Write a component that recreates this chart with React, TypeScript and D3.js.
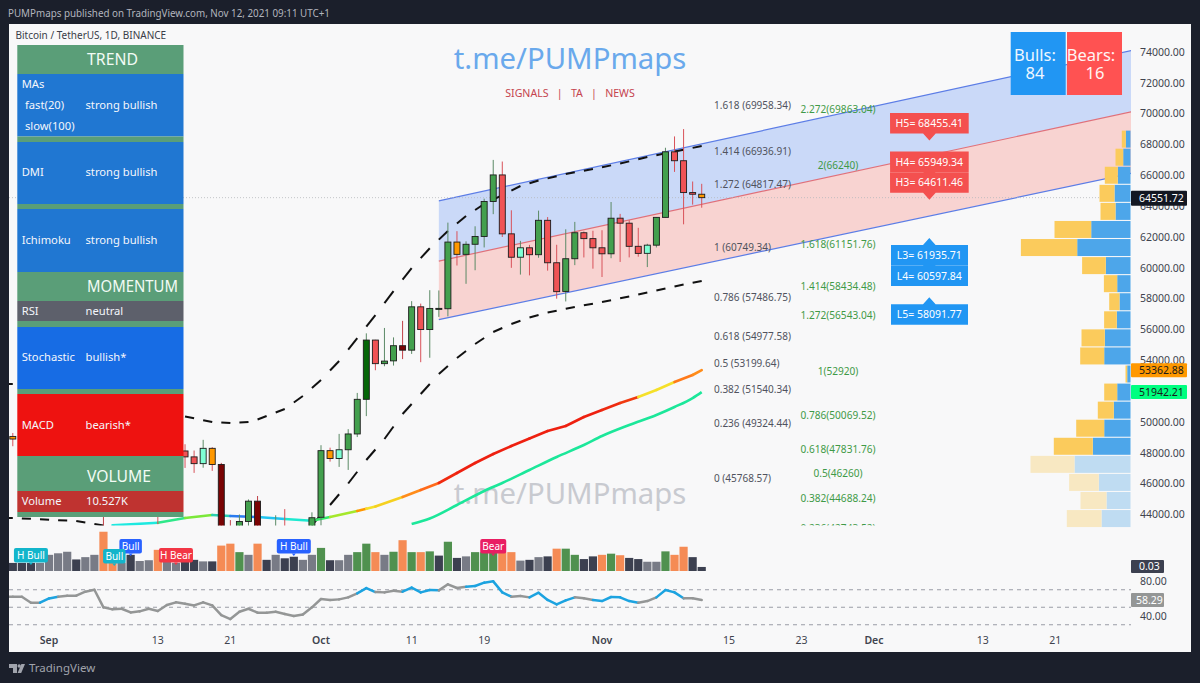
import * as React from 'react'
import * as d3 from 'd3'

// daily candles, Aug 27 to Nov 12 2021
const firstDay = -35 // days from Oct 1
const opens = [46894, 49064, 48895, 48767, 46991, 47100, 48810, 49246, 49998, 49917, 51757, 52666, 46868, 46048, 46396, 44843, 45173, 46026, 44947, 47127,
  48121, 47737, 47299, 48292, 47241, 43016, 40734, 43546, 44865, 42810, 42670, 43160, 42147, 41026, 41522,
  43820, 48141, 47634, 48200, 49224, 51471, 55315, 53785, 53965, 54949, 54660, 57471, 55996, 57370, 57347, 61672, 60875, 61528, 62036, 64303,
  66026, 62205, 60688, 61300, 60852, 63083, 60329, 58470, 60590, 62276, 61895,
  61300, 60911, 63220, 62896, 61396, 60940, 61470, 63273, 67525, 66947, 64882, 64774]
const highs = [49149, 49287, 49632, 48888, 48246, 49125, 50500, 51000, 50558, 51900, 52780, 52920, 47340, 47399, 47040, 45987, 46460, 46890, 47250, 48500,
  48557, 48150, 48843, 48372, 47347, 43639, 44000, 44978, 45200, 42966, 43950, 44350, 42787, 42590, 44141,
  48495, 48336, 49228, 49536, 51886, 55750, 55332, 56100, 55489, 56561, 57839, 57680, 58550, 58532, 62933, 62378, 61718, 62695, 64486, 67000,
  66895, 63732, 61747, 61490, 63710, 63293, 61496, 62499, 62980, 62359, 62405,
  62437, 64270, 63500, 63086, 62595, 61560, 63286, 67789, 68524, 69000, 65600, 65450]
const lows = [46360, 48428, 47762, 46853, 46700, 46512, 48584, 48316, 49370, 49450, 50969, 42843, 44412, 45513, 44132, 44722, 44742, 43370, 44594, 46700,
  47021, 46699, 47035, 46829, 42500, 39600, 40565, 43069, 40675, 41646, 40750, 42098, 40888, 40753, 41410,
  43283, 47430, 47088, 46891, 49022, 50382, 53357, 53617, 53661, 54080, 54415, 53879, 54167, 56818, 56850, 60150, 58963, 59844, 61322, 63481,
  62000, 60000, 59562, 59510, 60656, 59817, 58000, 57820, 60174, 60673, 59945,
  59405, 60624, 60382, 60677, 60721, 60050, 61322, 63273, 66222, 62822, 64100, 63900]
const closes = [49064, 48895, 48767, 46991, 47100, 48810, 49246, 49999, 49915, 51756, 52663, 46864, 46049, 46395, 44851, 45173, 46026, 44947, 47127, 48149,
  47737, 47299, 48292, 47241, 43015, 40734, 43543, 44865, 42810, 42670, 43160, 42147, 41026, 41522, 43790,
  48141, 47634, 48200, 49224, 51471, 55315, 53785, 53951, 54949, 54659, 57471, 55996, 57367, 57347, 61672, 60875, 61528, 62036, 64303, 66026,
  62204, 60687, 61300, 60852, 63083, 60329, 58455, 60591, 62276, 61894, 61300,
  60911, 63219, 62896, 61395, 60937, 61470, 63273, 67525, 66947, 64882, 64774, 64551.72]
const candleKinds = 'gorrggggrggRrgrggrggrrmoRRggRrgrrgg' + 'gomggGrggRgrgggoggggrrmrgrrggrr' + 'rgrrrmggrrro'

const volumes = [21, 21, 21, 21, 21, 42, 46, 50, 30, 36, 42, 102, 46, 22, 42, 26, 28, 55, 24, 21,
  24, 29, 25, 25, 66, 71, 49, 42, 71, 29, 42, 33, 37, 29, 42,
  60, 28, 28, 42, 49, 71, 49, 42, 50, 80, 49, 49, 51, 40, 76, 34, 38, 49, 49, 47,
  49, 49, 27, 29, 36, 38, 58, 58, 42, 31, 38,
  42, 45, 41, 34, 31, 24, 24, 51, 42, 63, 36, 10.5]
const volumeKinds = 'ddddg' + 'gggdggoogdggoggddgdoongodgddgg' + 'ndggnnogno' + 'nondndgnnn' + 'oogdgdonndd' + 'onoddggnoodd'

const rsiValues = [62, 62, 62, 55.2, 55.2, 60.1, 62, 63.2, 63.2, 67.8, 70, 49.9, 47.6, 48.3, 44.1, 45.3, 48.3, 45.7, 52.5, 55.6,
  54.1, 52.1, 55.6, 52.1, 41.1, 36.5, 44.9, 48.3, 43.8, 43.8, 44.9, 42.2, 39.9, 41.8, 49.9,
  59.4, 58.2, 59, 61.3, 65.9, 71.9, 67.4, 67, 68.9, 67.8, 72.4, 67, 69.7, 69.3, 76.2, 72, 73.5, 74.3, 78.1, 79.6,
  67, 62.1, 62.8, 61.3, 66.6, 58.3, 53.3, 57.9, 61.3, 60.2, 58.3,
  57.1, 61.7, 61.3, 57.1, 55.2, 57.1, 61.3, 69.7, 67, 60.2, 60.2, 58.29]
const rsiBlueRanges = [[-31, -29], [4, 6], [9, 13], [16, 21], [23, 28], [30, 35], [37, 40]]
const rsiLevels = [70, 50, 30]

// dashed bands
const upperDays = [-35, -34, -15, -12, -10, -8, -7, -4, -2, 0, 2, 4, 6, 8, 10, 12, 14, 16, 18, 20, 22, 24, 27, 30, 33, 36, 39, 42]
const upperBand = [52464, 52464, 50356, 50000, 49935, 50000, 50162, 50843, 51686, 52723, 53956, 55448, 56940, 58494, 59988, 61267, 62390, 63360, 64140, 64721, 65307, 65664, 66085, 66409, 66766, 67188, 67545, 67901]
const lowerDays = [-35, -34, -27, -24, -20, -8, -3, -1, 0, 1, 3, 5, 7, 9, 11, 13, 15, 17, 19, 21, 23, 25, 28, 31, 34, 37, 40, 42]
const lowerBand = [43773, 43773, 43578, 43287, 42995, 41000, 41697, 43319, 43968, 44616, 46011, 47535, 48897, 50518, 51815, 53113, 54150, 55058, 55837, 56356, 56778, 57102, 57458, 57783, 58139, 58529, 58918, 59145]

// moving averages
const fastDays = [-23, -18, -15, -12, -10, -7, -4, -1, 1, 4, 5, 6, 9, 11, 13, 15, 17, 19, 21, 23, 25, 27, 29, 31, 33, 35, 37, 39, 41, 42]
const fastMa = [43300, 43468, 43773, 43968, 43903, 43838, 43708, 43598, 43838, 44227, 44370, 44519, 45135, 45589, 46043, 46692, 47340, 47924, 48443, 48929, 49416, 49740, 50324, 50778, 51232, 51621, 52075, 52594, 53048, 53362.88]
const fastColors = ['#1de9e0', '#2fe88a', '#7be83a', '#2ad0b0', '#2a7bf0', '#1fc4f0', '#1de9d0', '#35e86a', '#a5e82c', '#ff9800', '#f5e02a', '#f5d020', '#ff8c1a', '#ff6a1a', '#f02a10', '#ee2010', '#ee2010', '#ee2010', '#ee2010', '#ee2010', '#ee2010', '#ee2010', '#ee2010', '#ee2a10', '#f03a10', '#f5e02a', '#f5e02a', '#ff7a1a', '#ff8c1a']
const slowDays = [10, 12, 15, 18, 20, 23, 26, 29, 31, 34, 37, 39, 41, 42]
const slowMa = [43384, 43741, 44616, 45524, 46043, 46886, 47729, 48508, 49092, 49805, 50454, 50973, 51556, 51942.21]

// regression channel, two ends each
const channelDays = [13, 89.4]
const channelTop = [64340, 74100]
const channelMid = [60440, 70120]
const channelBottom = [56640, 66130]

// volume profile, top row first
const profileTop = 68900
const profileStep = 1172
const profileBuy = [4.7, 7.3, 12.7, 16, 15, 39.3, 53.3, 24.7, 13.3, 11, 13.7, 25.7, 26.3, 3.3, 13.3, 16.7, 26.3, 37.7, 56, 31.7, 24, 29]
const profileSell = [4, 7.7, 13, 15, 15, 36.7, 56.3, 23.7, 13.3, 10.3, 12.7, 23.3, 24, 1.7, 13, 16, 28, 39, 44, 29.7, 26, 34.7]
const profilePaleFrom = 18

const priceTicks = [74000, 72000, 70000, 68000, 66000, 64000, 62000, 60000, 58000, 56000, 54000, 50000, 48000, 46000, 44000]
const timeTicks = ['2021-09-01', '2021-09-13', '2021-09-21', '2021-10-01', '2021-10-11', '2021-10-19', '2021-11-01', '2021-11-15', '2021-11-23', '2021-12-01', '2021-12-13', '2021-12-21']
const fibLevels = ['1.618', '1.414', '1.272', '1', '0.786', '0.618', '0.5', '0.382', '0.236', '0']
const fibPrices = [69958.34, 66936.91, 64817.47, 60749.34, 57486.75, 54977.58, 53199.64, 51540.34, 49324.44, 45768.57]
const extLabels = ['2.272(69863.04)', '2(66240)', '1.618(61151.76)', '1.414(58434.48)', '1.272(56543.04)', '1(52920)', '0.786(50069.52)', '0.618(47831.76)', '0.5(46260)', '0.382(44688.24)', '0.236(42743.52)']
const extPrices = [69863.04, 66240, 61151.76, 58434.48, 56543.04, 52920, 50069.52, 47831.76, 46260, 44688.24, 42743.52]
const highNames = ['H5', 'H4', 'H3']
const highPivots = [68455.41, 65949.34, 64611.46]
const lowNames = ['L3', 'L4', 'L5']
const lowPivots = [61935.71, 60597.84, 58091.77]
const signalNames = ['H Bull', 'Bull', 'Bull', 'H Bear', 'H Bull', 'Bear']
const signalDays = [-32, -21, -22.8, -16, -3, 19]
const signalColors = ['#12b5cb', '#2962ff', '#12b5cb', '#f23645', '#2962ff', '#e91e63']
const signalTops = [548, 539, 549, 548, 539, 539]

const panelRows = [
  { y0: 45, y1: 74, fill: '#5a9e78' }, { y0: 74, y1: 136.5, fill: '#2077d2' }, { y0: 136.5, y1: 142, fill: '#5a9e78' },
  { y0: 142, y1: 204, fill: '#2077d2' }, { y0: 204, y1: 209, fill: '#5a9e78' }, { y0: 209, y1: 272, fill: '#2077d2' },
  { y0: 272, y1: 301, fill: '#5a9e78' }, { y0: 301, y1: 321, fill: '#5d606b' }, { y0: 321, y1: 327, fill: '#5a9e78' },
  { y0: 327, y1: 389, fill: '#176ce4' }, { y0: 389, y1: 394, fill: '#5a9e78' }, { y0: 394, y1: 456, fill: '#ee1210' },
  { y0: 456, y1: 491, fill: '#5a9e78' }, { y0: 491, y1: 512, fill: '#bf3330' }, { y0: 512, y1: 517, fill: '#5a9e78' },
]
const panelHeads = [['TREND', 65, 51], ['MOMENTUM', 292, 91], ['VOLUME', 482, 64]] as [string, number, number][]
const panelTexts = [
  ['MAs', 21.7, 88], ['fast(20)', 25, 109], ['slow(100)', 25, 130], ['DMI', 21.7, 176], ['Ichimoku', 21.7, 244],
  ['RSI', 21.7, 315], ['Stochastic', 21.7, 361], ['MACD', 21.7, 429], ['Volume', 21.7, 505],
  ['strong bullish', 85.5, 109], ['strong bullish', 85.5, 176], ['strong bullish', 85.5, 244],
  ['neutral', 85.5, 315], ['bullish*', 85.5, 361], ['bearish*', 85.5, 429], ['10.527K', 86, 505],
] as [string, number, number][]

const candleFill: Record<string, string> = { g: '#43a04e', r: '#f05355', G: '#056608', R: '#7a0404', m: '#7fffd4', o: '#ff9800' }
const wickColor: Record<string, string> = { g: '#5b8a66', r: '#d8525a', G: '#5b8a66', R: '#c04048', m: '#5b8a66', o: '#d8525a' }
const volumeFill: Record<string, string> = { d: '#3c4050', g: '#787b86', o: '#f58b55', n: '#50914f' }

const oct1 = Date.UTC(2021, 9, 1)
const dayMs = 86400000
const x = d3.scaleUtc().domain([new Date(oct1), new Date(Date.UTC(2021, 10, 1))]).range([321, 602])
const xd = (d: number) => x(new Date(oct1 + d * dayMs))
const y = d3.scaleLinear().domain([44000, 74000]).range([514.5, 52])
const volY = d3.scaleLinear().domain([0, 100]).range([571, 532.5])
const rsiY = d3.scaleLinear().domain([40, 80]).range([616, 581])
const profW = d3.scaleLinear().domain([0, 100]).range([0, 100])
const fontUi = '"Noto Sans", sans-serif'

const seg = (x0: number, y0: number, x1: number, y1: number) => d3.line()([[x0, y0], [x1, y1]]) || ''

// the bands are drawn broken: one day on, one day off, from odd days
const DashedBand = ({ days, vals }: { days: number[], vals: number[] }) => {
  const at = d3.scaleLinear().domain(days).range(vals)
  const starts = d3.range(-35, 42, 2)
  return (
    <g>
      {starts.map(d => (
        <path key={d} d={seg(xd(d), y(at(d)), xd(d + 1), y(at(d + 1)))} stroke="#111" strokeWidth={2} fill="none" />
      ))}
    </g>
  )
}

const App = () => {
  const pathOf = (days: number[], vals: number[]) =>
    d3.line<number>().x((_, i) => xd(days[i])).y(v => y(v)).curve(d3.curveMonotoneX)(vals) || ''
  const tf = d3.utcFormat('%b')

  return (
    <svg width={1200} height={683} style={{ position: 'absolute', left: 0, top: 0, display: 'block' }} fontFamily={fontUi}>
      <defs>
        <clipPath id="mainClip"><rect x={9} y={24} width={1122} height={501.5} /></clipPath>
        <clipPath id="plotClip"><rect x={9} y={24} width={1122} height={628} /></clipPath>
      </defs>
      <rect width={1200} height={683} fill="#1b1f2b" />
      <rect x={9} y={24} width={1182} height={628} fill="#f8f8f9" />
      <text x={8} y={17} fontSize={10.2} textLength={322} lengthAdjust="spacingAndGlyphs" fill="#b2b5be">PUMPmaps published on TradingView.com, Nov 12, 2021 09:11 UTC+1</text>
      <text x={15.5} y={39} fontSize={10} fill="#3a3d48">Bitcoin / TetherUS, 1D, BINANCE</text>

      <g clipPath="url(#mainClip)">
        <path d={`M${xd(channelDays[0])},${y(channelTop[0])}L${xd(channelDays[1])},${y(channelTop[1])}L${xd(channelDays[1])},${y(channelMid[1])}L${xd(channelDays[0])},${y(channelMid[0])}Z`} fill="#cad9f8" />
        <path d={`M${xd(channelDays[0])},${y(channelMid[0])}L${xd(channelDays[1])},${y(channelMid[1])}L${xd(channelDays[1])},${y(channelBottom[1])}L${xd(channelDays[0])},${y(channelBottom[0])}Z`} fill="#f8d3d1" />
        {[channelTop, channelBottom].map((c, i) => (
          <path key={i} d={seg(xd(channelDays[0]), y(c[0]), xd(channelDays[1]), y(c[1]))} stroke="#5c7de6" strokeWidth={1.2} fill="none" />
        ))}
        <path d={seg(xd(channelDays[0]), y(channelMid[0]), xd(channelDays[1]), y(channelMid[1]))} stroke="#e0707a" strokeWidth={1.2} fill="none" />
        <line x1={9} x2={1131} y1={y(64551.72)} y2={y(64551.72)} stroke="#b5b7bd" strokeWidth={0.8} strokeDasharray="1 2" />

        <text x={570} y={493} dy="0.36em" textAnchor="middle" fontSize={29.3} fill="#c8cad0">t.me/PUMPmaps</text>

        <DashedBand days={upperDays} vals={upperBand} />
        <DashedBand days={lowerDays} vals={lowerBand} />

        {fastColors.map((c, i) => (
          <path key={i} d={seg(xd(fastDays[i]), y(fastMa[i]), xd(fastDays[i + 1]), y(fastMa[i + 1]))} stroke={c} strokeWidth={2.6} strokeLinecap="round" fill="none" />
        ))}
        <path d={pathOf(slowDays, slowMa)} fill="none" stroke="#1ce79a" strokeWidth={2.6} />

        {opens.map((o, i) => {
          const d = firstDay + i
          const k = candleKinds[i]
          const c = closes[i]
          const top = y(Math.max(o, c))
          const h = Math.max(1, Math.abs(y(o) - y(c)))
          return (
            <g key={i}>
              <line x1={xd(d)} x2={xd(d)} y1={y(highs[i])} y2={y(lows[i])} stroke={wickColor[k]} strokeWidth={1} />
              <rect x={xd(d) - 3} y={top} width={6} height={h} fill={candleFill[k]} stroke="#1c1c1c" strokeWidth={0.9} />
            </g>
          )
        })}
      </g>

      {/* fib levels */}
      {fibLevels.map((l, i) => (
        <text key={l} x={714} y={y(fibPrices[i]) - 9} dy="0.36em" fontSize={10} fill="#50535e">{`${l} (${fibPrices[i]})`}</text>
      ))}
      <g clipPath="url(#mainClip)">
        {extLabels.map((l, i) => (
          <text key={l} x={838} y={y(extPrices[i]) - 6} dy="0.36em" textAnchor="middle" fontSize={10.1} fill="#3f9a47">{l}</text>
        ))}
      </g>

      {/* pivots */}
      {highNames.map((n, i) => {
        const t = y(highPivots[i]) + 3
        return (
          <g key={n}>
            <path d={`M890,${t - 27.5}h78.7v20.5h-33l-6.3,7l-6.3,-7h-33z`} fill="#f4504f" />
            <text x={929.3} y={t - 17.3} dy="0.36em" textAnchor="middle" fontSize={10.5} fill="#fff">{`${n}= ${highPivots[i]}`}</text>
          </g>
        )
      })}
      {lowNames.map((n, i) => {
        const t = y(lowPivots[i])
        return (
          <g key={n}>
            <path d={`M891,${t + 7}h32l6.3,-7l6.3,7h32.4v20.5h-77z`} fill="#2196f3" />
            <text x={929.3} y={t + 17.3} dy="0.36em" textAnchor="middle" fontSize={10.5} fill="#fff">{`${n}= ${lowPivots[i]}`}</text>
          </g>
        )
      })}

      {/* volume profile */}
      {profileBuy.map((b, i) => {
        const rowTop = y(profileTop - profileStep * i)
        const pale = i >= profilePaleFrom
        const bw = profW(b)
        const sw = profW(profileSell[i])
        return (
          <g key={i}>
            <rect x={1130.5 - bw} y={rowTop} width={bw} height={17} fill={pale ? '#bfdcf2' : '#4da6ea'} />
            <rect x={1130.5 - bw - sw} y={rowTop} width={sw} height={17} fill={pale ? '#f8e8c2' : '#fbcb5c'} />
          </g>
        )
      })}

      {/* volume pane */}
      <g clipPath="url(#plotClip)">
        {volumes.map((v, i) => (
          <rect key={i} x={xd(firstDay + i) - 4.1} y={volY(v)} width={8.2} height={571 - volY(v)} fill={volumeFill[volumeKinds[i]]} />
        ))}
        {signalNames.map((s, i) => {
          const cx = xd(signalDays[i])
          const w = s.length > 4 ? 34 : s === 'Bear' ? 26 : 22.5
          return (
            <g key={i}>
              <rect x={cx - w / 2} y={signalTops[i]} width={w} height={14.5} rx={2} fill={signalColors[i]} />
              <path d={`M${cx - 2},${signalTops[i] + 14.5}L${cx},${signalTops[i] + 17}L${cx + 2},${signalTops[i] + 14.5}Z`} fill={signalColors[i]} />
              <text x={cx} y={signalTops[i] + 7.2} dy="0.36em" textAnchor="middle" fontSize={10} fill="#fff">{s}</text>
            </g>
          )
        })}

        {/* rsi pane */}
        {rsiLevels.map(l => (
          <line key={l} x1={9} x2={1131} y1={rsiY(l)} y2={rsiY(l)} stroke="#9a9da6" strokeWidth={1} strokeDasharray="4 4" />
        ))}
        {rsiValues.slice(0, -1).map((v, i) => {
          const d = firstDay + i
          const blue = rsiBlueRanges.some(r => d >= r[0] && d < r[1])
          return <path key={i} d={seg(xd(d), rsiY(v), xd(d + 1), rsiY(rsiValues[i + 1]))} stroke={blue ? '#1ca3e0' : '#949696'} strokeWidth={2.5} strokeLinecap="round" fill="none" />
        })}
      </g>

      {/* left table */}
      {panelRows.map((r, i) => <rect key={i} x={17.3} y={r.y0} width={166.2} height={r.y1 - r.y0} fill={r.fill} />)}
      {panelHeads.map(h => <text key={h[0]} x={87} y={h[1]} fontSize={16} textLength={h[2]} lengthAdjust="spacingAndGlyphs" fill="#f2fbf5">{h[0]}</text>)}
      {panelTexts.map((t, i) => <text key={i} x={t[1]} y={t[2]} fontSize={11.2} fill="#f4f6fb">{t[0]}</text>)}

      {/* watermark */}
      <text x={570} y={69} textAnchor="middle" fontSize={29.3} fill="#6aa9ec">t.me/PUMPmaps</text>
      <text x={570} y={97} textAnchor="middle" fontSize={10.6} fill="#c5434e" xmlSpace="preserve">SIGNALS   |   TA   |   NEWS</text>

      {/* bulls and bears */}
      <rect x={1010.7} y={32} width={55} height={63} fill="#2196f3" />
      <rect x={1067} y={32} width={55} height={63} fill="#ff5252" />
      <text x={1035} y={61} textAnchor="middle" fontSize={16.5} fill="#eef6ff">Bulls:</text>
      <text x={1035} y={79} textAnchor="middle" fontSize={16.5} fill="#eef6ff">84</text>
      <text x={1091} y={61} textAnchor="middle" fontSize={16.5} fill="#fff4f4">Bears:</text>
      <text x={1095} y={79} textAnchor="middle" fontSize={16.5} fill="#fff4f4">16</text>

      {/* axes */}
      {priceTicks.map(p => (
        <text key={p} x={1140} y={y(p)} dy="0.36em" fontSize={10.5} fill="#40434e">{p.toFixed(2)}</text>
      ))}
      {[80, 40].map(v => <text key={v} x={1140} y={rsiY(v)} dy="0.36em" fontSize={10.5} fill="#40434e">{v.toFixed(2)}</text>)}
      {timeTicks.map(t => {
        const dt = new Date(t + 'T00:00:00Z')
        const first = dt.getUTCDate() === 1
        return (
          <text key={t} x={x(dt)} y={640} dy="0.36em" textAnchor="middle" fontSize={10.5} fontWeight={first ? 600 : 400} fill="#40434e">
            {first ? tf(dt) : dt.getUTCDate()}
          </text>
        )
      })}
      <rect x={1131} y={y(64551.72) - 7} width={56} height={15} rx={1} fill="#131722" />
      <text x={1139} y={y(64551.72) + 0.5} dy="0.36em" fontSize={10.5} fill="#fff">64551.72</text>
      <rect x={1131} y={y(53362.88) - 7} width={56} height={14} rx={1} fill="#ff9800" />
      <text x={1139} y={y(53362.88)} dy="0.36em" fontSize={10.5} fill="#1a1a1a">53362.88</text>
      <rect x={1131} y={y(51942.21) - 7} width={56} height={14} rx={1} fill="#00ff80" />
      <text x={1139} y={y(51942.21)} dy="0.36em" fontSize={10.5} fill="#1a1a1a">51942.21</text>
      <rect x={1131} y={560} width={33} height={13} rx={1} fill="#3c4050" />
      <text x={1139} y={566.5} dy="0.36em" fontSize={10.5} fill="#fff">0.03</text>
      <rect x={1131} y={rsiY(58.29) - 7} width={33} height={14} rx={1} fill="#949696" />
      <text x={1136} y={rsiY(58.29)} dy="0.36em" fontSize={10.5} fill="#fff">58.29</text>

      {/* footer logo */}
      <path d="M9,664h8v9h-4v-5h-4z M25,664l-3.8,9h-3.6l3.8,-9z" fill="#a0a3ac" />
      <circle cx={19.2} cy={666} r={1.7} fill="#a0a3ac" />
      <text x={29} y={672} fontSize={11.5} fill="#a0a3ac">TradingView</text>
    </svg>
  )
}

export default App
